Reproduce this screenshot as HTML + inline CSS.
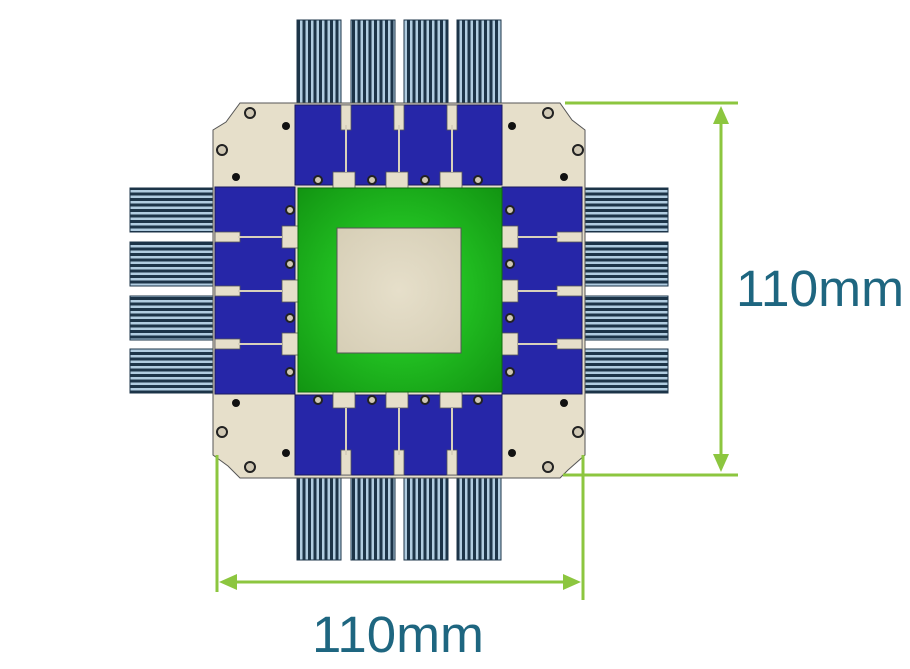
<!DOCTYPE html>
<html><head><meta charset="utf-8"><style>
html,body{margin:0;padding:0;background:#fff;width:910px;height:669px;overflow:hidden}
svg{display:block}
</style></head><body>
<svg width="910" height="669" viewBox="0 0 910 669" xmlns="http://www.w3.org/2000/svg">
<defs>
<pattern id="vs" width="5.5" height="10" patternUnits="userSpaceOnUse">
<rect width="5.5" height="10" fill="#b0cce0"/><rect width="3" height="10" fill="#1c3448"/>
</pattern>
<pattern id="hs" width="10" height="5.5" patternUnits="userSpaceOnUse">
<rect width="10" height="5.5" fill="#b0cce0"/><rect width="10" height="3" fill="#1c3448"/>
</pattern>
<radialGradient id="gg" cx="0.5" cy="0.5" r="0.7">
<stop offset="0" stop-color="#2ee02e"/><stop offset="1" stop-color="#129512"/>
</radialGradient>
<radialGradient id="bg" cx="0.5" cy="0.5" r="0.7">
<stop offset="0" stop-color="#e6dfca"/><stop offset="1" stop-color="#d6ceb6"/>
</radialGradient>
</defs>
<g stroke="#1c3448" stroke-width="1">
<rect x="297" y="20" width="44" height="87" fill="url(#vs)"/>
<rect x="351" y="20" width="44" height="87" fill="url(#vs)"/>
<rect x="404" y="20" width="44" height="87" fill="url(#vs)"/>
<rect x="457" y="20" width="44" height="87" fill="url(#vs)"/>
<rect x="297" y="474" width="44" height="86" fill="url(#vs)"/>
<rect x="351" y="474" width="44" height="86" fill="url(#vs)"/>
<rect x="404" y="474" width="44" height="86" fill="url(#vs)"/>
<rect x="457" y="474" width="44" height="86" fill="url(#vs)"/>
<rect x="130" y="188" width="88" height="44" fill="url(#hs)"/>
<rect x="130" y="242" width="88" height="44" fill="url(#hs)"/>
<rect x="130" y="296" width="88" height="44" fill="url(#hs)"/>
<rect x="130" y="349" width="88" height="44" fill="url(#hs)"/>
<rect x="582" y="188" width="86" height="44" fill="url(#hs)"/>
<rect x="582" y="242" width="86" height="44" fill="url(#hs)"/>
<rect x="582" y="296" width="86" height="44" fill="url(#hs)"/>
<rect x="582" y="349" width="86" height="44" fill="url(#hs)"/>
</g>
<path d="M240 103 L560 103 L572 120 L585 130 L585 455 L568 470 L560 478 L240 478 L228 466 L213 455 L213 130 L226 122 Z" fill="#e6dfca" stroke="#555" stroke-width="1"/>
<g fill="#2626a8" stroke="#1a1a60" stroke-width="1">
<rect x="295" y="105" width="207" height="80"/>
<rect x="295" y="395" width="207" height="80"/>
<rect x="215" y="187" width="80" height="207"/>
<rect x="502" y="187" width="80" height="207"/>
</g>
<g fill="#e6dfca" stroke="#555" stroke-width="0.8">
<rect x="341" y="105" width="10" height="25"/><rect x="394" y="105" width="10" height="25"/><rect x="447" y="105" width="10" height="25"/>
<rect x="333" y="172" width="22" height="16"/><rect x="386" y="172" width="22" height="16"/><rect x="440" y="172" width="22" height="16"/>
<rect x="341" y="450" width="10" height="25"/><rect x="394" y="450" width="10" height="25"/><rect x="447" y="450" width="10" height="25"/>
<rect x="333" y="392" width="22" height="16"/><rect x="386" y="392" width="22" height="16"/><rect x="440" y="392" width="22" height="16"/>
<rect x="215" y="232" width="25" height="10"/><rect x="215" y="286" width="25" height="10"/><rect x="215" y="339" width="25" height="10"/>
<rect x="282" y="226" width="16" height="22"/><rect x="282" y="280" width="16" height="22"/><rect x="282" y="333" width="16" height="22"/>
<rect x="557" y="232" width="25" height="10"/><rect x="557" y="286" width="25" height="10"/><rect x="557" y="339" width="25" height="10"/>
<rect x="502" y="226" width="16" height="22"/><rect x="502" y="280" width="16" height="22"/><rect x="502" y="333" width="16" height="22"/>
</g>
<g stroke="#d8d0bc" stroke-width="2">
<line x1="346" y1="125" x2="346" y2="172"/><line x1="399" y1="125" x2="399" y2="172"/><line x1="452" y1="125" x2="452" y2="172"/>
<line x1="346" y1="408" x2="346" y2="455"/><line x1="399" y1="408" x2="399" y2="455"/><line x1="452" y1="408" x2="452" y2="455"/>
<line x1="238" y1="237" x2="282" y2="237"/><line x1="238" y1="291" x2="282" y2="291"/><line x1="238" y1="344" x2="282" y2="344"/>
<line x1="518" y1="237" x2="560" y2="237"/><line x1="518" y1="291" x2="560" y2="291"/><line x1="518" y1="344" x2="560" y2="344"/>
</g>
<g fill="#d0c8b4" stroke="#222" stroke-width="2">
<circle cx="318" cy="180" r="4"/><circle cx="372" cy="180" r="4"/><circle cx="425" cy="180" r="4"/><circle cx="478" cy="180" r="4"/>
<circle cx="318" cy="400" r="4"/><circle cx="372" cy="400" r="4"/><circle cx="425" cy="400" r="4"/><circle cx="478" cy="400" r="4"/>
<circle cx="290" cy="210" r="4"/><circle cx="290" cy="264" r="4"/><circle cx="290" cy="318" r="4"/><circle cx="290" cy="372" r="4"/>
<circle cx="510" cy="210" r="4"/><circle cx="510" cy="264" r="4"/><circle cx="510" cy="318" r="4"/><circle cx="510" cy="372" r="4"/>
<circle cx="250" cy="113" r="5"/><circle cx="222" cy="150" r="5"/><circle cx="548" cy="113" r="5"/><circle cx="578" cy="150" r="5"/>
<circle cx="222" cy="432" r="5"/><circle cx="250" cy="467" r="5"/><circle cx="578" cy="432" r="5"/><circle cx="548" cy="467" r="5"/>
</g>
<g fill="#111">
<circle cx="286" cy="126" r="4"/><circle cx="236" cy="177" r="4"/><circle cx="512" cy="126" r="4"/><circle cx="564" cy="177" r="4"/>
<circle cx="286" cy="453" r="4"/><circle cx="236" cy="403" r="4"/><circle cx="512" cy="453" r="4"/><circle cx="564" cy="403" r="4"/>
</g>
<rect x="298" y="188" width="204" height="204" fill="url(#gg)" stroke="#0e6a0e" stroke-width="1"/>
<rect x="337" y="228" width="124" height="125" fill="url(#bg)" stroke="#555" stroke-width="1"/>
<g stroke="#8cc63f" stroke-width="3" fill="#8cc63f">
<line x1="565" y1="103" x2="738" y2="103"/>
<line x1="563" y1="475" x2="738" y2="475"/>
<line x1="721" y1="120" x2="721" y2="460"/>
<polygon points="721,106 713,124 729,124" stroke="none"/>
<polygon points="721,472 713,454 729,454" stroke="none"/>
<line x1="217" y1="455" x2="217" y2="592"/>
<line x1="583" y1="455" x2="583" y2="600"/>
<line x1="232" y1="582" x2="568" y2="582"/>
<polygon points="219,582 237,574 237,590" stroke="none"/>
<polygon points="581,582 563,574 563,590" stroke="none"/>
</g>
<g font-family="Liberation Sans, sans-serif" font-size="51" fill="#1e6680">
<text x="736" y="306" textLength="168" lengthAdjust="spacingAndGlyphs">110mm</text>
<text x="312" y="652" textLength="172" lengthAdjust="spacingAndGlyphs">110mm</text>
</g>
</svg>
</body></html>
